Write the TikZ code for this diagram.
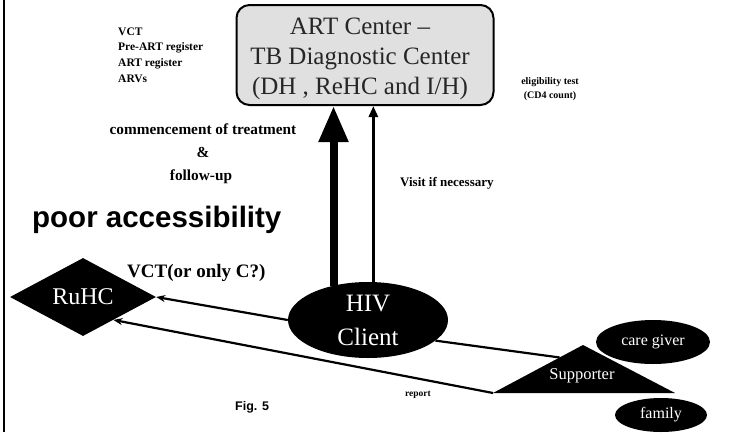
\documentclass[tikz,border=0pt]{standalone}
\usepackage{fontspec}
\setmainfont{Liberation Serif}
\newfontfamily\labelsans{Liberation Sans}
\usetikzlibrary{shapes.geometric,arrows.meta,calc}

\begin{document}
\begin{tikzpicture}[x=1pt,y=-1pt,
  blob/.style={ellipse,fill=black,text=white,inner sep=0pt},
  note/.style={font=\bfseries\fontsize{11.5}{13}\selectfont,anchor=base west,inner sep=0pt},
  tiny/.style={font=\bfseries\fontsize{10}{14}\selectfont,align=center,inner sep=0pt},
  treat/.style={anchor=base,inner sep=0pt,font=\bfseries\fontsize{15.3}{18}\selectfont},
  link/.style={line width=2.2pt,-{Stealth[length=9pt,width=7pt]}},
  plainlink/.style={line width=2.2pt},
  mainarrow/.style={line width=8pt,-{Triangle[length=36pt,width=28pt]}},
  thinarrow/.style={line width=2.6pt,-{Triangle[length=11pt,width=9pt]}}
]
\useasboundingbox (0,0) rectangle (739,432);

% frame line on the left
\draw[line width=2pt] (4,0) -- (4,432);

% centre at the top
\node[draw,line width=2pt,rounded corners=13pt,fill=black!12,
      minimum width=257pt,minimum height=100pt,inner sep=0pt]
  (art) at (365,55) {};
\node[align=center,text=black!85,inner sep=0pt,font=\fontsize{25}{30}\selectfont]
  (arttext) at (360,59) {ART Center --\\TB Diagnostic Center\\(DH , ReHC and I/H)};

% list of services
\node[note] (l1) at (118,35) {VCT};
\node[note] (l2) at (118,50.5) {Pre-ART register};
\node[note] (l3) at (118,66.5) {ART register};
\node[note] (l4) at (118,82) {ARVs};

\node[tiny] (elig) at (550,89) {eligibility test\\(CD4 count)};

% treatment labels
\node[treat] (comm) at (203,134) {commencement of treatment};
\node[treat] (amp) at (203,157) {\&};
\node[treat] (fol) at (201,180) {follow-up};

\node[anchor=base west,inner sep=0pt,font=\labelsans\bfseries\fontsize{29.5}{34}\selectfont]
  (poor) at (32,227) {poor accessibility};

\node[anchor=base west,inner sep=0pt,font=\bfseries\fontsize{13}{15}\selectfont]
  (visit) at (400,186) {Visit if necessary};

\node[anchor=base west,inner sep=0pt,font=\bfseries\fontsize{19}{22}\selectfont]
  (vct) at (127,277) {VCT(or only C?)};

% facilities and people
\node[diamond,aspect=1.87,fill=black,text=white,inner sep=0pt,
      minimum width=146pt,minimum height=78pt,font=\fontsize{24}{28}\selectfont]
  (ruhc) at (83,297) {RuHC};

\node[blob,minimum width=160pt,minimum height=76pt,align=center,
      font=\fontsize{25}{34}\selectfont]
  (hiv) at (368,320) {HIV\\Client};

\node[blob,minimum width=114pt,minimum height=44pt,font=\fontsize{16}{18}\selectfont]
  (care) at (653,342) {care giver};

\node[blob,minimum width=92pt,minimum height=34pt,font=\fontsize{16}{18}\selectfont]
  (fam) at (661,415) {family};

\coordinate (supL) at (493,393);
\coordinate (supT) at (583,345);
\coordinate (supR) at (675,393);
\fill (supL) -- (supT) -- (supR) -- cycle;
\node[text=white,inner sep=0pt,font=\fontsize{16.5}{18}\selectfont] (sup) at (582,376) {Supporter};

\node[anchor=base,inner sep=0pt,font=\bfseries\fontsize{9.5}{11}\selectfont] (rep) at (418,396) {report};

\node[anchor=base west,inner sep=0pt,font=\labelsans\bfseries\fontsize{12.5}{14}\selectfont]
  (fig) at (235,410) {Fig. 5};

% connectors
\draw[mainarrow] (hiv.135) -- (hiv.135 |- art.south);
\draw[thinarrow] (hiv.82) -- (hiv.82 |- art.south);
\draw[link] (hiv.west) -- (ruhc.east);
\draw[plainlink] (hiv.-17) -- ($(supL)!0.74!(supT)$);
\draw[link] (supL) -- (ruhc.-37);
\end{tikzpicture}
\end{document}
